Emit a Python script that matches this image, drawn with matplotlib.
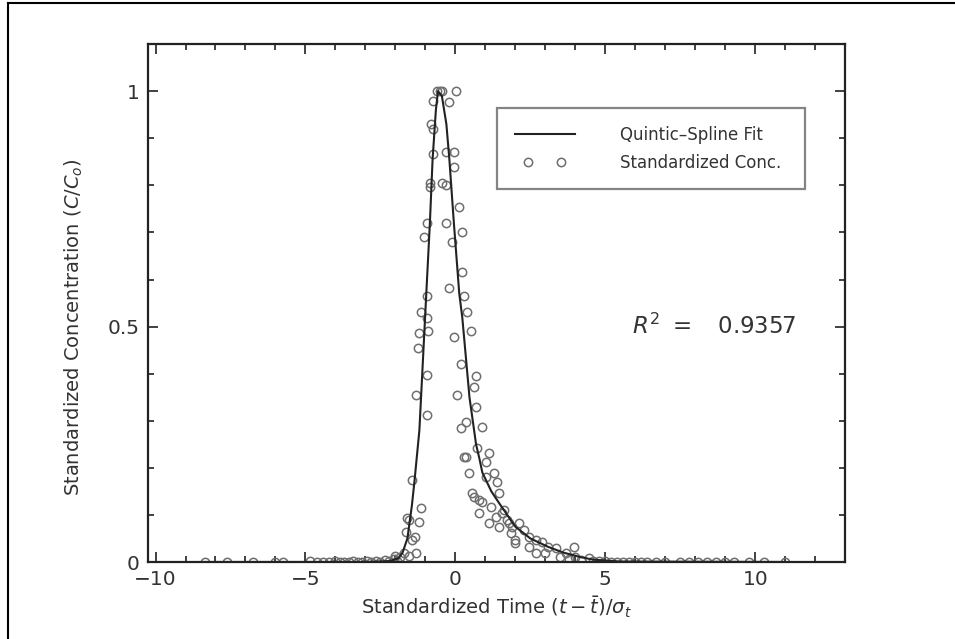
import matplotlib.pyplot as plt
from matplotlib.lines import Line2D
from matplotlib.legend_handler import HandlerLine2D

# quintic spline fit
fit_x = [-8.5, -3.0, -2.2, -1.9, -1.76, -1.6, -1.45, -1.36, -1.2, -0.97, -0.85, -0.76,
         -0.65, -0.58, -0.45, -0.3, -0.2, -0.05, 0.13, 0.23, 0.47, 0.69, 0.8, 0.9,
         1.2, 1.46, 2.0, 2.5, 3.1, 3.6, 4.2, 4.6, 5.5, 11.0]
fit_y = [0.0, 0.0, 0.002, 0.008, 0.02, 0.05, 0.12, 0.174, 0.28, 0.57, 0.72, 0.855,
         0.96, 1.0, 0.99, 0.93, 0.855, 0.72, 0.57, 0.52, 0.35, 0.25, 0.22, 0.19,
         0.15, 0.125, 0.075, 0.05, 0.032, 0.02, 0.01, 0.005, 0.001, 0.0]

# standardized concentrations
obs_x = [-8.34, -7.6, -6.74, -6.0, -5.75, -4.85, -4.6, -4.4, -4.2, -4.0, -3.85, -3.7,
         -3.55, -3.4, -3.25, -3.1, -2.95, -2.8, -2.65, -2.5, -2.35, -2.2, -2.05, -1.95,
         -2.0, -1.7, -1.55,
         -0.6, -0.5, -0.43, 0.03, -0.76, -0.2, -0.8, -0.76, -0.76, -0.3, -0.03, -0.03,
         -0.86, -0.86, -0.43, -0.3, 0.13, -0.96, -0.3, -1.03, -0.1, 0.23, 0.23, -0.2,
         -0.93, 0.3, -1.13, -0.93, 0.4, -1.2, -0.9, 0.53, -0.03, -1.26, 0.2, -0.93,
         0.7, 0.63, -1.3, 0.07, -0.96, 0.7, 0.37, 0.9, 0.2, 0.73, 0.37, 1.13, 1.03,
         0.47, 1.3, 1.03, -1.43, 1.4, 0.63, 0.9, 1.2, 1.46, -1.13, -1.6, -1.2, 0.8,
         1.36, 1.63, 1.13, 1.46, 1.8, 1.86, 2.0, -1.63, -1.46, -1.3, -1.86, -1.53,
         -1.36, 0.3, 0.57, 0.8, 1.56, 1.73, 1.9, 2.13, 2.3, 2.46, 2.7, 2.9, 2.0, 3.1,
         3.36, 3.95, 3.7, 2.46, 2.7, 3.0, 4.0, 4.45,
         3.5, 3.8, 4.2, 4.6, 4.8, 5.0, 5.2, 5.4, 5.6, 5.8, 6.0, 6.2, 6.4, 6.7, 7.0,
         7.5, 7.8, 8.1, 8.4, 8.7, 9.0, 9.3, 9.8, 10.3, 11.0]
obs_y = [0.0, 0.0, 0.0, 0.0, 0.0, 0.002, 0.0, 0.001, 0.0, 0.002, 0.0, 0.001,
         0.0, 0.002, 0.0, 0.001, 0.003, 0.0, 0.002, 0.001, 0.004, 0.002, 0.006, 0.003,
         0.012, 0.02, 0.012,
         1.0, 1.0, 1.0, 1.0, 0.98, 0.977, 0.93, 0.92, 0.866, 0.87, 0.87, 0.84,
         0.806, 0.796, 0.806, 0.80, 0.755, 0.72, 0.72, 0.69, 0.68, 0.70, 0.617, 0.583,
         0.564, 0.564, 0.532, 0.519, 0.532, 0.487, 0.49, 0.49, 0.477, 0.455, 0.42, 0.398,
         0.394, 0.372, 0.355, 0.355, 0.313, 0.33, 0.298, 0.287, 0.285, 0.243, 0.224, 0.232, 0.213,
         0.189, 0.189, 0.18, 0.174, 0.17, 0.138, 0.128, 0.117, 0.147, 0.115, 0.094, 0.085, 0.104,
         0.096, 0.111, 0.083, 0.074, 0.083, 0.062, 0.047, 0.064, 0.047, 0.019, 0.011, 0.09,
         0.053, 0.224, 0.147, 0.132, 0.104, 0.089, 0.074, 0.083, 0.068, 0.053, 0.047, 0.043, 0.04, 0.032,
         0.030, 0.032, 0.019, 0.032, 0.019, 0.019, 0.011, 0.008,
         0.01, 0.006, 0.004, 0.003, 0.002, 0.002, 0.001, 0.0, 0.001, 0.0, 0.0, 0.001, 0.0, 0.0, 0.0,
         0.0, 0.0, 0.0, 0.0, 0.0, 0.0, 0.0, 0.0, 0.0, 0.0]

ink = '#333333'
plt.rcParams['font.family'] = 'DejaVu Sans'

fig = plt.figure(figsize=(9.55, 6.39), dpi=100)
ax = fig.add_axes([0.155, 0.1205, 0.73, 0.8105])

pts, = ax.plot(obs_x, obs_y, linestyle='none', marker='o', markersize=6, markerfacecolor='none',
               markeredgecolor='#6e6e6e', markeredgewidth=1.1, label='Standardized Conc.')
fit, = ax.plot(fit_x, fit_y, color='#222222', linewidth=1.5, label='Quintic\u2013Spline Fit')

ax.set_xlim(-10.25, 13)
ax.set_ylim(0, 1.1)
ax.set_xticks([-10, -5, 0, 5, 10])
ax.set_xticks(range(-10, 14), minor=True)
ax.set_yticks([0, 0.5, 1])
ax.set_yticklabels(['0', '0.5', '1'])
ax.set_yticks([i / 10 for i in range(12)], minor=True)
ax.set_xticklabels(['\u221210', '\u22125', '0', '5', '10'])
ax.tick_params(which='both', direction='in', top=True, right=True, colors=ink,
               labelsize=14.5, width=1.3)
ax.tick_params(which='major', length=7, pad=6)
ax.tick_params(which='minor', length=4)
for s in ax.spines.values():
    s.set_linewidth(1.6)
    s.set_color('#222222')

ax.set_xlabel(r'Standardized Time $(t-\bar{t})/\sigma_t$', fontsize=14, color=ink, labelpad=4)
ax.set_ylabel(r'Standardized Concentration $(C/C_o)$', fontsize=14, color=ink)
ax.yaxis.set_label_coords(-0.09, 0.454)

leg = ax.legend([fit, pts], [fit.get_label(), pts.get_label()], loc='upper left',
                bbox_to_anchor=(0.5007, 0.722, 0.442, 0.1544), mode='expand', borderaxespad=0,
                handler_map={pts: HandlerLine2D(numpoints=2, marker_pad=0.8)},
                fontsize=12, handlelength=3.6, handletextpad=2.7,
                borderpad=1.05, labelspacing=0.6, fancybox=False, frameon=True)
leg.get_frame().set_edgecolor('#666666')
leg.get_frame().set_linewidth(1.6)
for t in leg.get_texts():
    t.set_color(ink)

ax.text(5.9, 0.5, r'$R^2$ $=$   0.9357', fontsize=16.5, color=ink, va='center', ha='left')

# outer frame of the figure
fig.add_artist(Line2D([8 / 955, 8 / 955], [0, 1 - 3 / 639], color='black', linewidth=1.5))
fig.add_artist(Line2D([8 / 955, 1], [1 - 3 / 639, 1 - 3 / 639], color='black', linewidth=1.5))

fig.savefig('out.png', dpi=100)
